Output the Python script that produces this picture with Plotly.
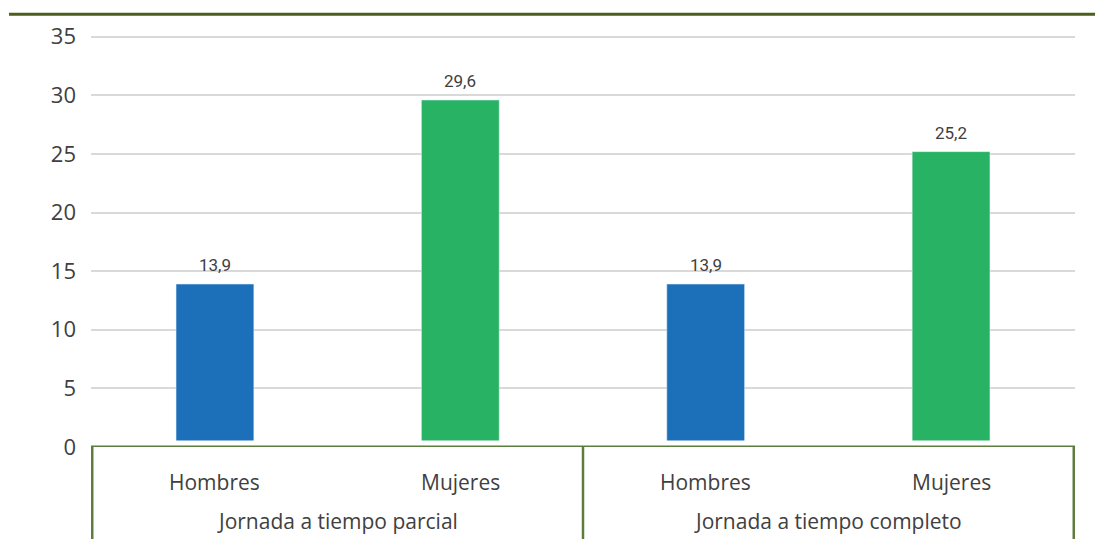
import plotly.graph_objects as go

# datos
jornadas = ["Jornada a tiempo parcial", "Jornada a tiempo completo"]
sexos = ["Hombres", "Mujeres", "Hombres", "Mujeres"]
grupo = [0, 0, 1, 1]
valores = [13.9, 29.6, 13.9, 25.2]
y_ticks = [0, 5, 10, 15, 20, 25, 30, 35]

colores = {"Hombres": "#1c70b9", "Mujeres": "#27b363"}
verde_eje = "#5d7d3c"
texto = "#404040"

# categorias unicas para el eje (una por barra)
cats = [f"{jornadas[g]}|{s}" for g, s in zip(grupo, sexos)]

fig = go.Figure()
fig.add_trace(go.Bar(
    x=cats,
    y=valores,
    marker_color=[colores[s] for s in sexos],
))

# el html deja 8px de margen en el body, se descuenta aqui
fig.update_layout(
    width=1095, height=531,
    margin=dict(l=83, r=28, t=23, b=92),
    plot_bgcolor="white", paper_bgcolor="white",
    bargap=0.683,
    showlegend=False,
    font=dict(family="Open Sans", size=21, color=texto),
)
fig.update_yaxes(
    range=[0, 35.15], tickvals=y_ticks,
    showgrid=True, gridcolor="#d9d9d9", gridwidth=2,
    zeroline=False, showline=False,
    ticks="", ticklabelstandoff=14,
    tickfont=dict(family="Open Sans", size=22, color=texto),
)
fig.update_xaxes(showticklabels=False, showline=False, ticks="", showgrid=False)

# etiquetas de datos
for c, v in zip(cats, valores):
    fig.add_annotation(x=c, y=v, yref="y", text=f"{v:.1f}".replace(".", ","),
                       showarrow=False, yanchor="middle", yshift=19,
                       font=dict(family="Roboto", size=17, color=texto))

# etiquetas de categoria (nivel 1 y 2)
for i, s in enumerate(sexos):
    fig.add_annotation(x=i, y=0, yref="paper", text=s, showarrow=False,
                       yanchor="middle", yshift=-35,
                       font=dict(family="Open Sans", size=21, color=texto))
for g, j in enumerate(jornadas):
    fig.add_annotation(x=2 * g + 0.5, y=0, yref="paper", text=j, showarrow=False,
                       yanchor="middle", yshift=-74,
                       font=dict(family="Open Sans", size=21, color=texto))

# hueco blanco entre la base de las barras y el eje
fig.add_shape(type="rect", xref="paper", yref="y", x0=0, x1=1, y0=0, y1=0.55,
              fillcolor="white", line_width=0, layer="above")
# eje x
fig.add_shape(type="line", xref="paper", yref="y", x0=0, x1=1, y0=0, y1=0,
              line=dict(color=verde_eje, width=3), layer="above")
# separadores de grupo
for xd in [-0.5, 1.5, 3.5]:
    fig.add_shape(type="line", xref="x", yref="paper", x0=xd, x1=xd, y0=0, y1=-0.23,
                  line=dict(color=verde_eje, width=2.5), layer="above")
# linea superior
fig.add_shape(type="line", xref="paper", yref="paper",
              x0=-0.0833, x1=1.03, y0=1.0505, y1=1.0505,
              line=dict(color="#4a5e1e", width=3))

fig.write_html("out.html")
